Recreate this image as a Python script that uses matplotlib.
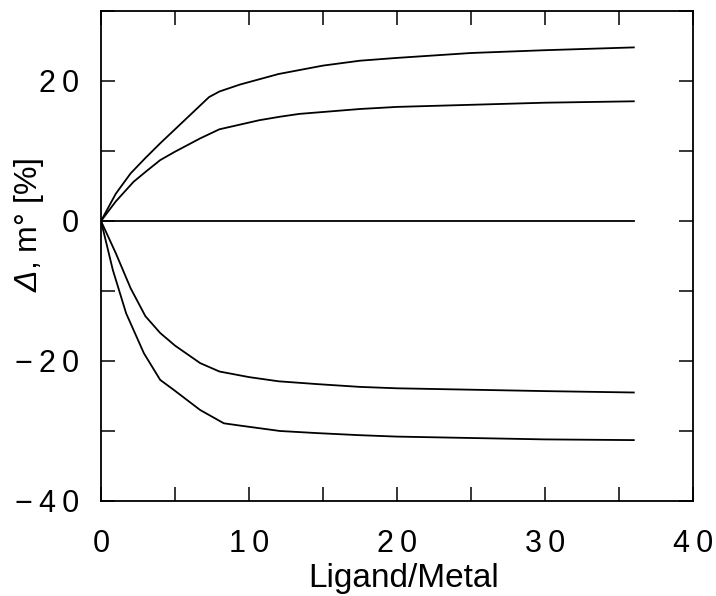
import matplotlib
matplotlib.use('Agg')
import matplotlib.pyplot as plt

plt.rcParams['font.family'] = ['Liberation Sans', 'DejaVu Sans']
# only the Delta goes through mathtext, so its upright font is set to italic
plt.rcParams['mathtext.fontset'] = 'custom'
plt.rcParams['mathtext.rm'] = 'Liberation Sans:italic'
plt.rcParams['mathtext.it'] = 'Liberation Sans:italic'

# curves (Ligand/Metal ratio vs deviation in %)
x_top = [0, 1, 2, 3, 4, 5, 6, 7.3, 8, 9.4, 12, 15, 17.5, 20, 25, 30, 36]
y_top = [0, 3.9, 6.8, 9.0, 11.1, 13.1, 15.1, 17.7, 18.5, 19.5, 21.0, 22.2, 22.9, 23.3, 24.0, 24.4, 24.8]

x_mid = [0, 1, 2.2, 3, 4, 5, 6.7, 8, 10.7, 12.1, 13.4, 17.5, 20, 25, 30, 36]
y_mid = [0, 2.8, 5.6, 7.0, 8.7, 9.9, 11.8, 13.1, 14.4, 14.9, 15.3, 16.0, 16.3, 16.6, 16.9, 17.1]

x_zero = [0, 36]
y_zero = [0, 0]

x_neg1 = [0, 1, 2, 3, 4, 5, 6.7, 8, 10, 12, 14.6, 17.5, 20, 25, 30, 36]
y_neg1 = [0, -4.6, -9.6, -13.6, -16.0, -17.8, -20.3, -21.5, -22.3, -22.9, -23.3, -23.7, -23.9, -24.1, -24.3, -24.5]

x_neg2 = [0, 0.8, 1.7, 2.9, 4, 4.9, 6.7, 8.3, 9.3, 12.1, 14.6, 17.5, 20, 25, 30, 36]
y_neg2 = [0, -7.0, -13.2, -18.9, -22.7, -24.1, -27.0, -28.9, -29.2, -30.0, -30.3, -30.6, -30.8, -31.0, -31.2, -31.3]

xticks = [0, 5, 10, 15, 20, 25, 30, 35, 40]
xlabels = ['0', '', '1\u20090', '', '2\u20090', '', '3\u20090', '', '4\u20090']
yticks = [-40, -30, -20, -10, 0, 10, 20, 30]
ylabels = ['\u2212\u20094\u20090', '', '\u2212\u20092\u20090', '', '0', '', '2\u20090', '']

fig = plt.figure(figsize=(7.16, 5.96), dpi=100)
ax = fig.add_axes([101/716, 1-501/596, 592/716, 490/596])

for xs, ys in [(x_top, y_top), (x_mid, y_mid), (x_zero, y_zero), (x_neg1, y_neg1), (x_neg2, y_neg2)]:
    ax.plot(xs, ys, color='black', lw=1.3)

ax.set_xlim(0, 40)
ax.set_ylim(-40, 30)
ax.set_xticks(xticks)
ax.set_xticklabels(xlabels)
ax.set_yticks(yticks)
ax.set_yticklabels(ylabels)
ax.tick_params(direction='in', length=10, width=1.1, top=True, right=True, labelsize=22)
ax.tick_params(axis='x', pad=20)
ax.tick_params(axis='y', pad=16)
for s in ax.spines.values():
    s.set_linewidth(1.3)

ax.set_xlabel('Ligand/Metal', fontsize=24)
ax.xaxis.set_label_coords(0.512, -0.126)
ax.set_ylabel(r'$Δ$, m° [%]', fontsize=23)
ax.yaxis.set_label_coords(-0.093, 0.563)

fig.savefig('out.png', dpi=100)
